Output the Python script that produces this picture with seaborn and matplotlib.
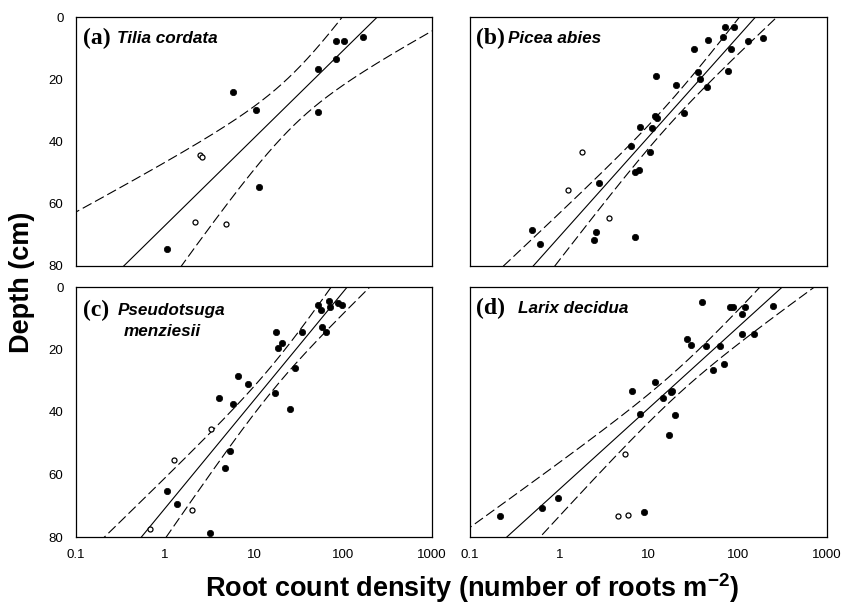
import math
import numpy as np
import pandas as pd
import matplotlib
matplotlib.use("Agg")
import matplotlib.pyplot as plt
import seaborn as sns

sns.set_theme(style="white")
plt.rcParams["font.family"] = ["Liberation Sans", "DejaVu Sans"]
plt.rcParams["mathtext.fontset"] = "custom"
plt.rcParams["mathtext.rm"] = "Liberation Sans"
plt.rcParams["mathtext.bf"] = "Liberation Sans:bold"
plt.rcParams["text.color"] = "black"
plt.rcParams["axes.labelcolor"] = "black"
plt.rcParams["xtick.color"] = "black"
plt.rcParams["ytick.color"] = "black"

# ---------------- data (root count density, depth in cm) ----------------
panel_labels = ["(a)", "(b)", "(c)", "(d)"]
species = ["Tilia cordata", "Picea abies", "Pseudotsuga\nmenziesii", "Larix decidua"]
x_ticks = [0.1, 1, 10, 100, 1000]
x_tick_labels = ["0.1", "1", "10", "100", "1000"]
y_ticks = [0, 20, 40, 60, 80]

a_fill_x = [1.05, 5.8, 10.6, 11.5, 53, 52, 82.6, 84, 103, 166]
a_fill_y = [74.6, 24.0, 30.0, 54.5, 16.8, 30.5, 13.5, 7.8, 7.8, 6.4]
a_open_x = [2.16, 2.48, 2.61, 4.9]
a_open_y = [66.0, 44.4, 45.0, 66.5]

b_fill_x = [71.2, 89.8, 67.6, 45.9, 130, 191, 32.0, 83.8, 35.7, 76.9, 12.1, 37.9,
            20.1, 45.1, 11.7, 12.6, 24.7, 8.13, 11.0, 6.39, 10.4, 7.15, 7.86, 2.80,
            0.492, 0.604, 2.55, 2.46, 7.15]
b_fill_y = [3.2, 3.2, 6.4, 7.4, 7.7, 6.7, 10.4, 10.4, 17.8, 17.3, 19.0, 19.9,
            21.8, 22.4, 31.8, 32.3, 30.8, 35.4, 35.8, 41.4, 43.5, 49.9, 49.1, 53.4,
            68.4, 73.0, 69.0, 71.5, 70.6]
b_open_x = [1.79, 1.24, 3.62]
b_open_y = [43.5, 55.6, 64.6]

c_fill_x = [69.8, 53.0, 72.3, 88.1, 98.5, 56.2, 57.7, 65.1, 17.7, 34.7, 20.9, 18.7,
            28.7, 6.59, 8.67, 4.06, 5.83, 17.1, 25.2, 5.40, 4.75, 1.05, 1.36, 3.17]
c_fill_y = [4.5, 5.7, 6.5, 5.2, 5.6, 7.5, 12.9, 14.5, 14.5, 14.5, 17.9, 19.4,
            26.0, 28.5, 31.0, 35.5, 37.5, 34.0, 39.0, 52.6, 57.9, 65.4, 69.4, 78.8]
c_open_x = [3.28, 1.25, 1.99, 0.678]
c_open_y = [45.5, 55.4, 71.4, 77.5]

d_fill_x = [39.6, 81.0, 87.5, 122, 248, 112, 112, 153, 27.1, 29.6, 44.3, 63.6,
            70.6, 52.6, 11.7, 6.56, 18.4, 17.8, 14.5, 8.07, 19.7, 16.9, 0.98, 0.647,
            0.217, 8.87]
d_fill_y = [4.9, 6.4, 6.4, 6.4, 6.0, 8.5, 15.0, 15.0, 16.5, 18.5, 19.0, 19.0,
            24.6, 26.5, 30.4, 33.4, 33.2, 33.7, 35.6, 40.5, 40.9, 47.4, 67.5, 70.8,
            73.4, 71.9]
d_open_x = [5.52, 4.53, 5.92]
d_open_y = [53.4, 73.4, 73.0]

panels = [
    (a_fill_x, a_fill_y, a_open_x, a_open_y),
    (b_fill_x, b_fill_y, b_open_x, b_open_y),
    (c_fill_x, c_fill_y, c_open_x, c_open_y),
    (d_fill_x, d_fill_y, d_open_x, d_open_y),
]


# ---------------- statistics helpers ----------------
def t_crit(df, p=0.975):
    grid = np.linspace(0, 12, 24001)
    c = math.exp(math.lgamma((df + 1) / 2) - math.lgamma(df / 2)) / math.sqrt(df * math.pi)
    pdf = c * (1 + grid ** 2 / df) ** (-(df + 1) / 2)
    cdf = 0.5 + np.concatenate([[0.0], np.cumsum((pdf[1:] + pdf[:-1]) / 2 * np.diff(grid))])
    return float(np.interp(p, cdf, grid))


def fit_band(x, y):
    lx = np.log10(np.asarray(x, float))
    y = np.asarray(y, float)
    n = len(lx)
    mx = lx.mean()
    sxx = ((lx - mx) ** 2).sum()
    b = ((lx - mx) * (y - y.mean())).sum() / sxx
    a = y.mean() - b * mx
    s = math.sqrt(((y - (a + b * lx)) ** 2).sum() / (n - 2))
    t = t_crit(n - 2)
    g = np.linspace(-1.2, 3.2, 500)
    fit = a + b * g
    half = t * s * np.sqrt(1.0 / n + (g - mx) ** 2 / sxx)
    return 10 ** g, fit, fit - half, fit + half


# ---------------- figure ----------------
W, H = 843, 606
fig = plt.figure(figsize=(W / 100, H / 100), dpi=100)

boxes = [(76, 17, 432, 266), (470, 17, 827, 266), (76, 287, 432, 537), (470, 287, 827, 537)]
text_pos = [
    [(0.020, 0.915), (0.115, 0.915)],
    [(0.017, 0.915), (0.106, 0.915)],
    [(0.019, 0.908), (0.116, 0.908)],
    [(0.017, 0.915), (0.134, 0.915)],
]

for i, (box, (fx, fy, ox, oy)) in enumerate(zip(boxes, panels)):
    l, t, r, b = box
    ax = fig.add_axes([l / W, 1 - b / H, (r - l) / W, (b - t) / H])
    ax.set_xscale("log")

    xs, fit, lo, hi = fit_band(fx, fy)
    ax.plot(xs, fit, color="black", lw=0.8, zorder=2)
    for band in (lo, hi):
        ln, = ax.plot(xs, band, color="black", lw=0.8, zorder=2)
        ln.set_dashes([9, 3.6])

    df_f = pd.DataFrame({"x": fx, "y": fy})
    df_o = pd.DataFrame({"x": ox, "y": oy})
    sns.scatterplot(data=df_f, x="x", y="y", ax=ax, color="black", edgecolor="black",
                    s=21, linewidth=0.5, zorder=3)
    sns.scatterplot(data=df_o, x="x", y="y", ax=ax, color="white", edgecolor="black",
                    s=13, linewidth=0.9, zorder=3)

    ax.set_xlim(0.1, 1000)
    ax.set_ylim(80, 0)
    ax.set_xlabel("")
    ax.set_ylabel("")
    for sp in ax.spines.values():
        sp.set_color("black")
        sp.set_linewidth(0.9)
    ax.minorticks_off()
    ax.set_xticks(x_ticks)
    ax.set_yticks(y_ticks)
    ax.tick_params(axis="both", which="major", direction="out", length=4, width=0.8,
                   color="black", labelsize=9.5, labelcolor="black")
    ax.tick_params(axis="x", pad=5)
    ax.tick_params(axis="y", pad=5)
    if i in (0, 2):
        ax.set_yticklabels([str(v) for v in y_ticks])
    else:
        ax.tick_params(axis="y", length=0, labelleft=False)
    if i in (2, 3):
        ax.set_xticklabels(x_tick_labels)
    else:
        ax.tick_params(axis="x", length=0, labelbottom=False)

    (px, py), (sx, sy) = text_pos[i]
    ax.text(px, py, panel_labels[i], transform=ax.transAxes, fontfamily="Liberation Serif",
            fontweight="bold", fontsize=17, va="center", ha="left", color="black")
    if i == 2:
        first, second = species[i].split("\n")
        ax.text(sx, sy, first, transform=ax.transAxes, fontweight="bold",
                fontstyle="italic", fontsize=12.3, va="center", ha="left", color="black")
        ax.text(0.133, 0.824, second, transform=ax.transAxes, fontweight="bold",
                fontstyle="italic", fontsize=12.3, va="center", ha="left", color="black")
    else:
        ax.text(sx, sy, species[i], transform=ax.transAxes, fontweight="bold",
                fontstyle="italic", fontsize=12.3, va="center", ha="left", color="black")

fig.text(22 / W, 1 - 282 / H, "Depth (cm)", rotation=90, fontweight="bold",
         fontsize=19.5, ha="center", va="center", color="black")
fig.text(472 / W, 1 - 588 / H, r"Root count density (number of roots m$^{\mathbf{-2}}$)",
         fontweight="bold", fontsize=19.5, ha="center", va="center", color="black")

fig.savefig("out.png", dpi=100)
